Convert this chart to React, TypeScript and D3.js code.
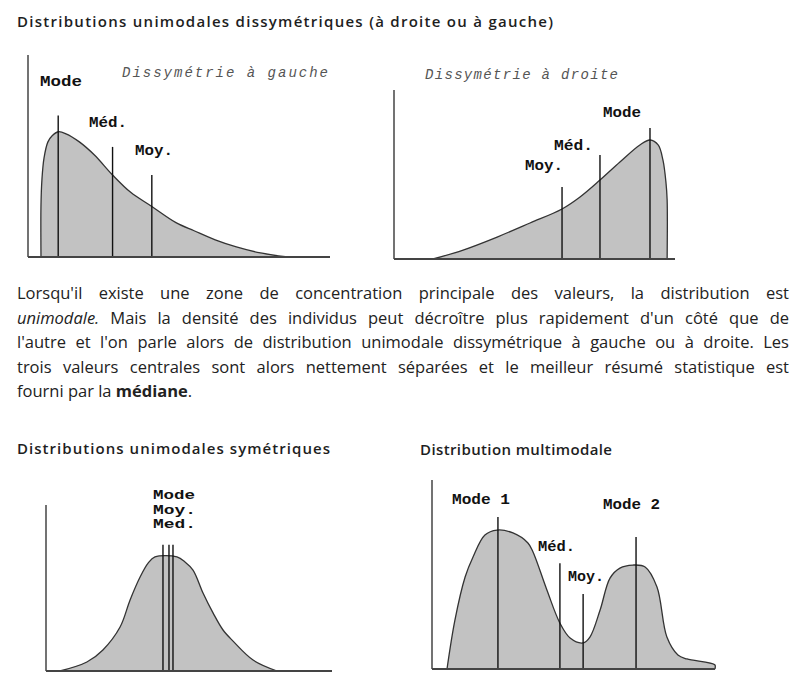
import React, { useEffect, useRef } from 'react';
import * as d3 from 'd3';

// each little plot uses 0..100 on both axes
const leftSkewCurve = [[4.3, 0], [4.3, 25.7], [4.6, 38], [5.3, 49], [6.6, 57], [8, 60], [10, 62], [12.6, 61], [17, 57], [22, 50.5], [28, 40.6], [34, 32], [41, 25], [49, 17], [55, 13], [62, 8.5], [69, 5], [77, 2], [86, 0]];
const leftSkewMarkers = [{ x: 10, top: 70 }, { x: 28, top: 54.5 }, { x: 41, top: 40.6 }];

const rightSkewCurve = [[13.9, 0], [24.6, 5.3], [36.7, 13], [48.4, 21.3], [59.8, 29.6], [66.2, 36.7], [73.3, 46.7], [80.4, 57.4], [87.5, 67.5], [91.1, 70.4], [94, 67.5], [95.7, 58.6], [96.8, 45], [97.2, 35], [97.2, 0]];
const rightSkewMarkers = [{ x: 59.8, top: 42.6 }, { x: 73.3, top: 61.5 }, { x: 91.1, top: 77.5 }];

const symCurve = [[4.9, 0], [14.3, 5.4], [19.9, 12.7], [25.9, 26.5], [29.4, 42.8], [32.9, 56.6], [35.7, 65], [38.1, 68.7], [45.8, 68.7], [48.6, 65.7], [51.4, 60.8], [54.9, 47], [58.4, 35], [61.9, 24.7], [65.4, 18], [72.4, 6.6], [80.8, 0]];
const symMarkers = [{ x: 40.9, top: 76 }, { x: 43, top: 76 }, { x: 44.4, top: 76 }];

const multiCurve = [[5.3, 0], [8.1, 25.9], [11.7, 48.7], [14.5, 59.3], [18.7, 70.9], [23, 73.5], [28.6, 72], [33.9, 66.7], [35.7, 61.9], [40.6, 41.8], [45.2, 24.3], [48.8, 16.4], [53.4, 13.8], [55.8, 16.9], [59.4, 31.2], [62.9, 48.1], [66.4, 53.4], [71, 55], [75.3, 54], [79.5, 43.4], [83, 16.9], [86.9, 7.4], [90.1, 5.3], [100, 2.1], [100, 0]];
const multiMarkers = [{ x: 23.3, top: 80.4 }, { x: 45.2, top: 56 }, { x: 53.4, top: 39.7 }, { x: 72.1, top: 69.8 }];

const titles = [
  'Distributions unimodales dissymétriques (à droite ou à gauche)',
  'Distributions unimodales symétriques',
  'Distribution multimodale',
];

// label text, left x, baseline y, width, italic, font size
const leftLabels = [
  ['Mode', 40, 86, 42, false, 15], ['Dissymétrie à gauche', 122, 77, 206, true, 14],
  ['Méd.', 89, 127, 38, false, 15], ['Moy.', 135, 155, 38, false, 15],
];
const rightLabels = [
  ['Dissymétrie à droite', 425, 79, 193, true, 14], ['Mode', 603, 117, 38, false, 15],
  ['Méd.', 554, 150, 39, false, 15], ['Moy.', 525, 170, 38, false, 15],
];
const symLabels = [
  ['Mode', 153, 499, 42, false, 12.5], ['Moy.', 153, 513.5, 43, false, 12.5], ['Med.', 153, 528, 43, false, 12.5],
];
const multiLabels = [
  ['Mode 1', 452, 504, 58, false, 15], ['Mode 2', 603, 509, 57, false, 15],
  ['Méd.', 538, 551, 37, false, 15], ['Moy.', 568, 581, 36, false, 15],
];

const curveType = d3.curveCatmullRom.alpha(0.5);

function Panel({ box, curve, markers, labels }: any) {
  const x = d3.scaleLinear().domain([0, 100]).range([box.x0, box.x1]);
  const y = d3.scaleLinear().domain([0, 100]).range([box.base, box.top]);
  const area = d3.area<number[]>().x(d => x(d[0])).y0(y(0)).y1(d => y(d[1])).curve(curveType);
  const line = d3.line<number[]>().x(d => x(d[0])).y(d => y(d[1])).curve(curveType);
  return (
    <g>
      <path d={area(curve) || ''} fill="#c2c2c2" />
      <path d={line(curve) || ''} fill="none" stroke="#333" strokeWidth={1.3} />
      {markers.map((m: any, i: number) => (
        <line key={i} x1={x(m.x)} x2={x(m.x)} y1={y(0)} y2={y(m.top)} stroke="#111" strokeWidth={1.4} />
      ))}
      <line x1={x(0)} x2={x(0)} y1={y(0)} y2={y(100)} stroke="#444" strokeWidth={1.5} />
      <line x1={x(0)} x2={x(100)} y1={y(0)} y2={y(0)} stroke="#444" strokeWidth={1.8} />
      {labels.map((l: any, i: number) => (
        <text key={i} x={l[1]} y={l[2]} textLength={l[3]}
          lengthAdjust={l[4] ? 'spacing' : 'spacingAndGlyphs'}
          fontFamily="'Liberation Mono', 'Courier New', monospace" fontSize={l[5]}
          fontWeight={l[4] ? 'normal' : 'bold'} fontStyle={l[4] ? 'italic' : 'normal'}
          fill={l[4] ? '#555' : '#111'}>{l[0]}</text>
      ))}
    </g>
  );
}

export default function App() {
  const para = useRef<SVGGElement>(null);

  // justify the first four lines between x=17 and x=789
  useEffect(() => {
    if (!para.current) return;
    const lines = para.current.querySelectorAll('text.just');
    lines.forEach((el: any) => {
      el.setAttribute('word-spacing', '0');
      const w = el.getComputedTextLength();
      const spaces = (el.textContent.match(/ /g) || []).length;
      if (spaces) el.setAttribute('word-spacing', String((772 - w) / spaces));
    });
  }, []);

  const textFont = "'Comic Sans MS', 'Open Sans', sans-serif";
  const lineYs = [299, 323.5, 348, 372.5, 397];

  return (
    <svg width={810} height={683} style={{ position: 'absolute', left: 0, top: 0, background: '#fff' }}>
      <g fontFamily={textFont} fill="#1e1e1e" fontWeight={600} fontSize={15}>
        <text x={17} y={27} textLength={536} lengthAdjust="spacing">{titles[0]}</text>
        <text x={17} y={454} textLength={313} lengthAdjust="spacing">{titles[1]}</text>
        <text x={420} y={455} textLength={192} lengthAdjust="spacing">{titles[2]}</text>
      </g>

      <Panel box={{ x0: 28, x1: 330, base: 257, top: 55 }} curve={leftSkewCurve} markers={leftSkewMarkers} labels={leftLabels} />
      <Panel box={{ x0: 394, x1: 675, base: 259, top: 90 }} curve={rightSkewCurve} markers={rightSkewMarkers} labels={rightLabels} />
      <Panel box={{ x0: 46, x1: 332, base: 671, top: 505 }} curve={symCurve} markers={symMarkers} labels={symLabels} />
      <Panel box={{ x0: 432, x1: 715, base: 669, top: 480 }} curve={multiCurve} markers={multiMarkers} labels={multiLabels} />

      <g ref={para} fontFamily={textFont} fontSize={16.5} fill="#222">
        <text className="just" x={17} y={lineYs[0]}>Lorsqu'il existe une zone de concentration principale des valeurs, la distribution est</text>
        <text className="just" x={17} y={lineYs[1]}><tspan fontStyle="italic">unimodale.</tspan> Mais la densité des individus peut décroître plus rapidement d'un côté que de</text>
        <text className="just" x={17} y={lineYs[2]}>l'autre et l'on parle alors de distribution unimodale dissymétrique à gauche ou à droite. Les</text>
        <text className="just" x={17} y={lineYs[3]}>trois valeurs centrales sont alors nettement séparées et le meilleur résumé statistique est</text>
        <text x={17} y={lineYs[4]}>fourni par la <tspan fontWeight="bold">médiane</tspan>.</text>
      </g>
    </svg>
  );
}
